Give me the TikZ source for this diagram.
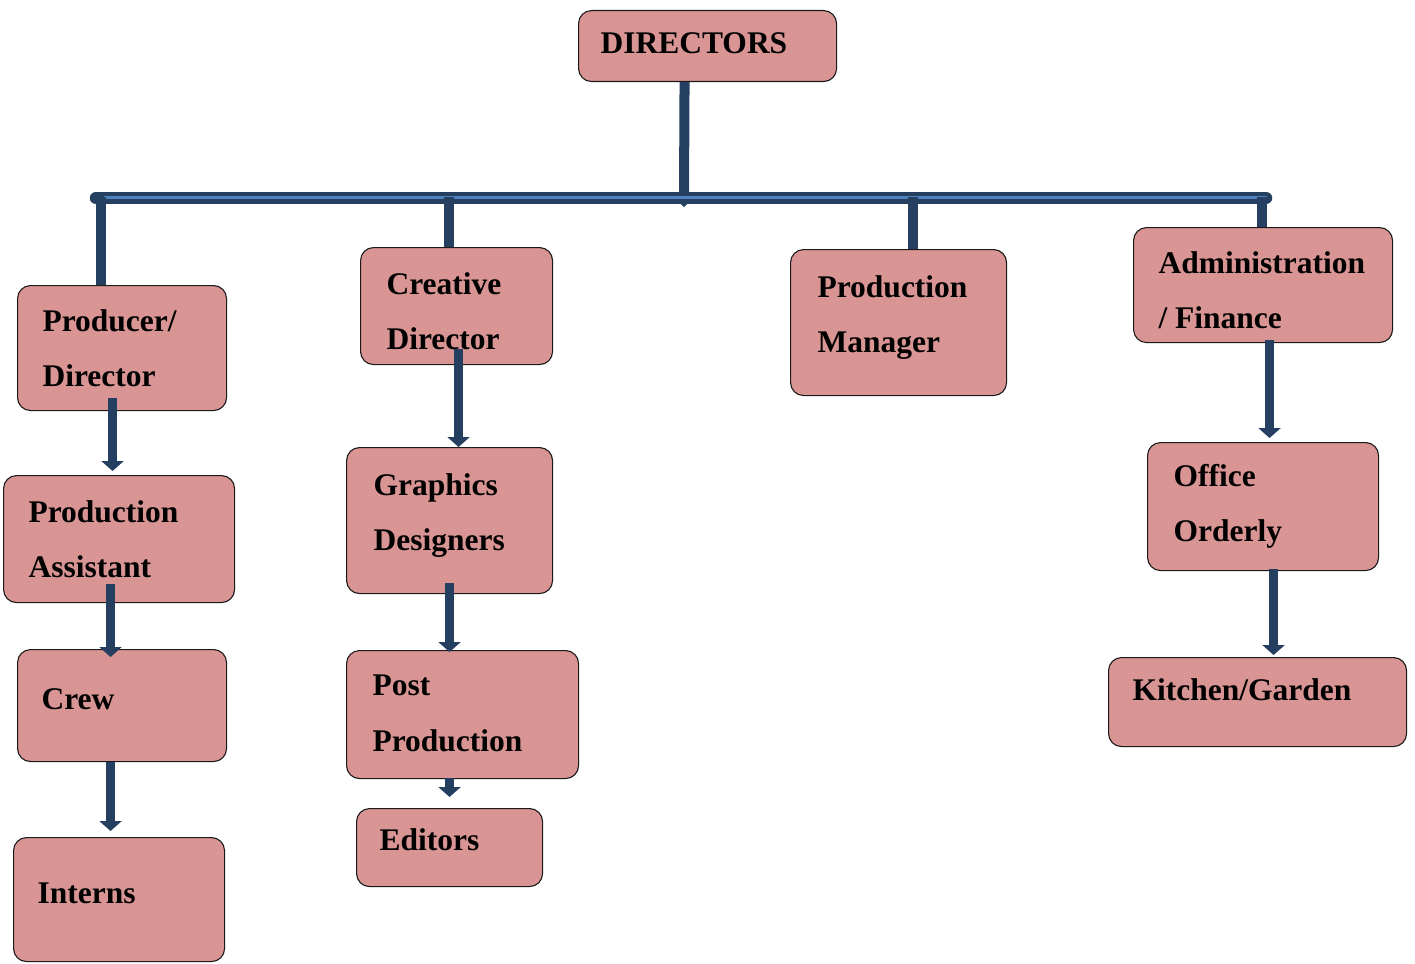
\documentclass[tikz,border=0pt]{standalone}
\usepackage{fontspec}
\setmainfont{Liberation Serif}
\usetikzlibrary{arrows.meta}
\definecolor{boxfill}{HTML}{D99594}
\definecolor{navy}{HTML}{243F60}
\definecolor{stripe}{HTML}{4F81BD}
\definecolor{edge}{HTML}{1A1A1A}
\newcommand\boxtxt[5]{\hbox to #1pt{\kern#3pt\vbox to #2pt{\offinterlineskip\kern#4pt #5\vfil}\hss}}
\newcommand\onel[1]{\hbox{\smash{#1}}}
\newcommand\lsep{\kern55pt}
\begin{document}
\begin{tikzpicture}[x=1pt,y=-1pt,
  orgbox/.style={draw=edge,line width=1.1pt,fill=boxfill,rounded corners=13pt,inner sep=0pt,anchor=north west,
    font=\bfseries\fontsize{31.5}{37}\selectfont},
  arr/.style={draw=navy,fill=navy,line width=9.5pt,-{Triangle[width=22pt,length=10pt]}},
  trunk/.style={draw=navy,line width=10pt},
  drop/.style={draw=navy,line width=10pt},
  bar/.style={draw=navy,line width=12.5pt,line cap=round},
  barstripe/.style={draw=stripe,line width=3pt}]
\useasboundingbox (0,0) rectangle (1415,963);
% boxes
\node[orgbox] (dir)  at (578,10)  {\boxtxt{258}{71}{22}{43}{\onel{DIRECTORS}}};
\node[orgbox] (pd)   at (17,285)  {\boxtxt{209}{125}{25}{46}{\onel{Producer/}\lsep\onel{Director}}};
\node[orgbox] (cd)   at (360,247) {\boxtxt{192}{117}{26}{47}{\onel{Creative}\lsep\onel{Director}}};
\node[orgbox] (pm)   at (790,249) {\boxtxt{216}{146}{27}{48}{\onel{Production}\lsep\onel{Manager}}};
\node[orgbox] (af)   at (1133,227){\boxtxt{259}{115}{25}{46}{\onel{Administration}\lsep\onel{/ Finance}}};
\node[orgbox] (pa)   at (3,475)   {\boxtxt{231}{127}{25}{47}{\onel{Production}\lsep\onel{Assistant}}};
\node[orgbox] (crew) at (17,649)  {\boxtxt{209}{112}{24}{60}{\onel{Crew}}};
\node[orgbox] (int)  at (13,837)  {\boxtxt{211}{124}{24}{66}{\onel{Interns}}};
\node[orgbox] (gd)   at (346,447) {\boxtxt{206}{146}{27}{48}{\onel{Graphics}\lsep\onel{Designers}}};
\node[orgbox] (pp)   at (346,650) {\boxtxt{232}{128}{26}{45}{\onel{Post}\kern56pt\onel{Production}}};
\node[orgbox] (ed)   at (356,808) {\boxtxt{186}{78}{23}{42}{\onel{Editors}}};
\node[orgbox] (oo)   at (1147,442){\boxtxt{231}{128}{26}{44}{\onel{Office}\lsep\onel{Orderly}}};
\node[orgbox] (kg)   at (1108,657){\boxtxt{298}{89}{24}{43}{\onel{Kitchen/Garden}}};
% trunk from directors (its small tip shows just below the bar)
\coordinate (hub) at (684,207);
\draw[trunk] ([xshift=-23pt]dir.south) -- ([yshift=10pt]hub);
\fill[navy] (hub) -- ++(-11,-10) -- ++(22,0) -- cycle;
% bar
\coordinate (barL) at (96,198);
\coordinate (barR) at (1266,198);
\draw[bar] (barL) -- (barR);
\draw[barstripe] (104,197.5) -- (1267,197.5);
% drops
\coordinate (t1) at (101,197);
\coordinate (t2) at (449,197);
\coordinate (t3) at (913,197);
\coordinate (t4) at (1261.5,197);
\draw[drop] (t1) -- (t1 |- pd.north);
\draw[drop] (t2) -- (t2 |- cd.north);
\draw[drop] (t3) -- (t3 |- pm.north);
\draw[drop] (t4) -- (t4 |- af.north);
% arrows
\draw[arr] ([xshift=-9.5pt,yshift=13pt]pd.south) -- ([xshift=-6.5pt,yshift=4pt]pa.north);
\draw[arr] ([xshift=2pt,yshift=16pt]cd.south) -- ([xshift=9pt]gd.north);
\draw[arr] ([xshift=-8.5pt,yshift=19pt]pa.south) -- ([xshift=-11.5pt,yshift=-8pt]crew.north);
\draw[arr] ([xshift=-11.5pt]crew.south) -- ([xshift=-8.5pt,yshift=6pt]int.north);
\draw[arr] ([yshift=11pt]gd.south) -- ([xshift=-13pt,yshift=-2pt]pp.north);
\draw[arr] ([xshift=-13pt,yshift=1pt]pp.south) -- ([yshift=11pt]ed.north);
\draw[arr] ([xshift=6.5pt,yshift=3pt]af.south) -- ([xshift=6.5pt,yshift=4pt]oo.north);
\draw[arr] ([xshift=10.5pt,yshift=2pt]oo.south) -- ([xshift=16pt,yshift=2pt]kg.north);
\end{tikzpicture}
\end{document}
